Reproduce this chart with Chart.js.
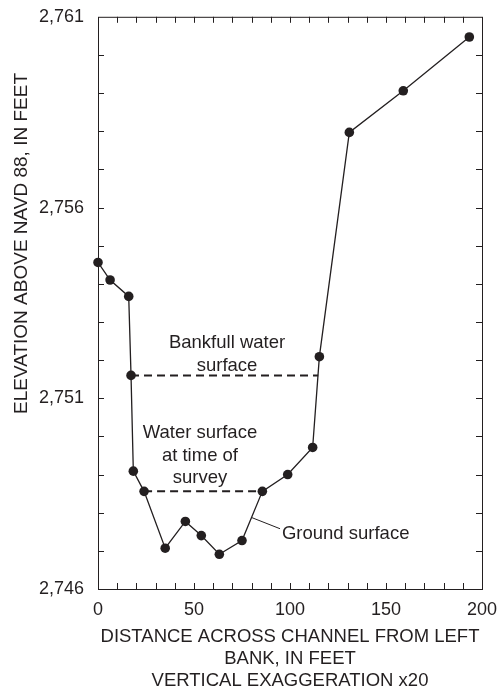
<!DOCTYPE html>
<html lang="en">
<head>
<meta charset="UTF-8">
<title>Channel cross section</title>
<script src="https://cdn.jsdelivr.net/npm/chart.js"></script>
<style>
  html, body { margin: 0; padding: 0; background: #fff; }
  .wrap { width: 501px; height: 694px; }
</style>
</head>
<body>
<div class="wrap"><canvas id="section"></canvas></div>
<script>
// surveyed ground points, left bank to right bank
const distance  = [0, 6.3, 16, 17.2, 18.4, 24, 35, 45.5, 53.8, 63.2, 75, 85.6, 98.8, 111.8, 115.3, 130.9, 159, 193.4];
const elevation = [2754.56, 2754.1, 2753.67, 2751.6, 2749.09, 2748.56, 2747.07, 2747.77, 2747.4, 2746.91, 2747.27, 2748.56, 2749.0, 2749.71, 2752.09, 2757.97, 2759.06, 2760.47];

// water surfaces: extent across the channel and elevation
const bankfullX = [17.2, 114.7];
const bankfullElev = 2751.6;
const surveyX = [24, 85.6];
const surveyElev = 2748.56;

const xTicks = [0, 50, 100, 150, 200];
const yTicks = [2746, 2751, 2756, 2761];

const INK = '#231f20';
const FONT = '"Liberation Sans", Arial, Helvetica, sans-serif';

const ground = distance.map((d, i) => ({ x: d, y: elevation[i] }));
const bankfull = bankfullX.map(d => ({ x: d, y: bankfullElev }));
const survey = surveyX.map(d => ({ x: d, y: surveyElev }));

// box around the plot with small inward ticks on all four sides
const frame = {
  id: 'frame',
  beforeDatasetsDraw(chart) {
    const { ctx, chartArea: a, scales: { x, y } } = chart;
    const len = 6;
    ctx.save();
    ctx.strokeStyle = INK;
    ctx.lineWidth = 1;
    ctx.strokeRect(a.left + 0.5, a.top + 0.5, a.right - a.left, a.bottom - a.top);
    ctx.beginPath();
    for (let v = x.min + 10; v < x.max; v += 10) {
      const px = Math.round(x.getPixelForValue(v)) + 0.5;
      ctx.moveTo(px, a.bottom); ctx.lineTo(px, a.bottom - len);
      ctx.moveTo(px, a.top); ctx.lineTo(px, a.top + len);
    }
    for (let v = y.min + 1; v < y.max; v += 1) {
      const py = Math.round(y.getPixelForValue(v)) + 0.5;
      ctx.moveTo(a.left, py); ctx.lineTo(a.left + len, py);
      ctx.moveTo(a.right, py); ctx.lineTo(a.right - len, py);
    }
    ctx.stroke();
    ctx.restore();
  }
};

// labels, leader line and the vertical axis title
const notes = {
  id: 'notes',
  afterDatasetsDraw(chart) {
    const { ctx, scales: { x, y } } = chart;
    ctx.save();
    ctx.fillStyle = INK;
    ctx.font = '18.5px ' + FONT;
    ctx.textBaseline = 'alphabetic';

    ctx.textAlign = 'center';
    const bx = x.getPixelForValue(67.2), by = y.getPixelForValue(2752.31);
    ctx.fillText('Bankfull water', bx, by);
    ctx.fillText('surface', bx, by + 23);

    const wx = x.getPixelForValue(53.1), wy = y.getPixelForValue(2749.95);
    ctx.fillText('Water surface', wx, wy);
    ctx.fillText('at time of', wx, wy + 22.3);
    ctx.fillText('survey', wx, wy + 44.6);

    ctx.textAlign = 'left';
    ctx.fillText('Ground surface', x.getPixelForValue(95.8), y.getPixelForValue(2747.32));

    ctx.strokeStyle = INK;
    ctx.lineWidth = 1;
    ctx.beginPath();
    ctx.moveTo(x.getPixelForValue(79.7), y.getPixelForValue(2747.88));
    ctx.lineTo(x.getPixelForValue(94.8), y.getPixelForValue(2747.58));
    ctx.stroke();

    ctx.font = '19px ' + FONT;
    ctx.translate(21.5, 243.5);
    ctx.rotate(-Math.PI / 2);
    ctx.textAlign = 'center';
    ctx.textBaseline = 'middle';
    ctx.fillText('ELEVATION ABOVE NAVD 88, IN FEET', 0, 0);
    ctx.restore();
  }
};

new Chart(document.getElementById('section'), {
  type: 'scatter',
  data: {
    datasets: [
      {
        label: 'Ground surface',
        data: ground,
        showLine: true,
        borderColor: INK,
        borderWidth: 1.3,
        pointRadius: 4.8,
        pointBackgroundColor: INK,
        pointBorderWidth: 0,
        clip: false
      },
      {
        label: 'Bankfull water surface',
        data: bankfull,
        showLine: true,
        borderColor: INK,
        borderWidth: 2,
        borderDash: [8, 5],
        pointRadius: 0
      },
      {
        label: 'Water surface at time of survey',
        data: survey,
        showLine: true,
        borderColor: INK,
        borderWidth: 2,
        borderDash: [8, 5],
        pointRadius: 0
      }
    ]
  },
  options: {
    responsive: true,
    maintainAspectRatio: false,
    animation: false,
    layout: { padding: { top: 14, right: 19, left: 0, bottom: 0 } },
    plugins: {
      legend: { display: false },
      tooltip: { enabled: false }
    },
    scales: {
      x: {
        type: 'linear',
        min: 0,
        max: 200,
        grid: { display: false },
        border: { display: false },
        afterBuildTicks: s => { s.ticks = xTicks.map(v => ({ value: v })); },
        afterFit: s => { s.height = 105; },
        ticks: {
          color: INK,
          font: { family: FONT, size: 18 },
          padding: 2,
          maxRotation: 0
        },
        title: {
          display: true,
          text: ['DISTANCE ACROSS CHANNEL FROM LEFT', 'BANK, IN FEET', 'VERTICAL EXAGGERATION x20'],
          color: INK,
          font: { family: FONT, size: 18.5, lineHeight: 1.2 },
          padding: { top: 0, bottom: 2 }
        }
      },
      y: {
        type: 'linear',
        min: 2746,
        max: 2761,
        grid: { display: false },
        border: { display: false },
        afterBuildTicks: s => { s.ticks = yTicks.map(v => ({ value: v })); },
        afterFit: s => { s.width = 98; },
        ticks: {
          color: INK,
          font: { family: FONT, size: 18 },
          padding: 6,
          callback: v => v.toLocaleString('en-US')
        }
      }
    }
  },
  plugins: [frame, notes]
});
</script>
</body>
</html>
